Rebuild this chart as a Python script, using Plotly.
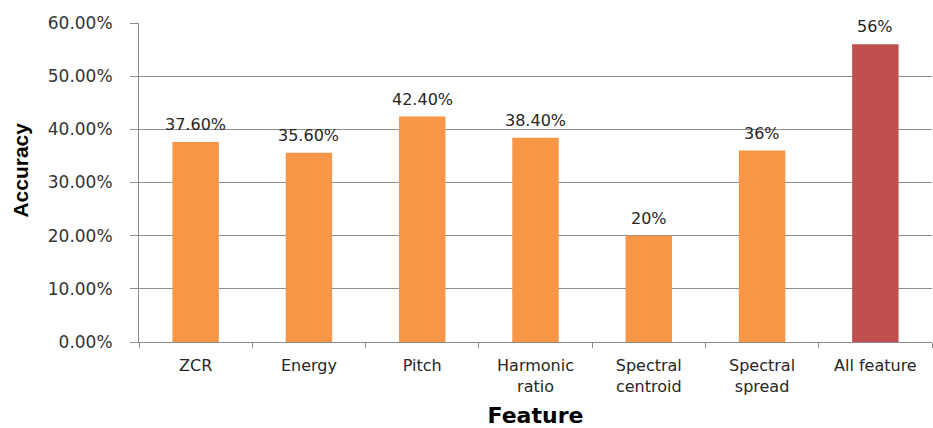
import plotly.graph_objects as go

categories = ["ZCR", "Energy", "Pitch", "Harmonic<br>ratio", "Spectral<br>centroid", "Spectral<br>spread", "All feature"]
accuracy = [0.376, 0.356, 0.424, 0.384, 0.20, 0.36, 0.56]
value_labels = ["37.60%", "35.60%", "42.40%", "38.40%", "20%", "36%", "56%"]
y_ticks = [0.0, 0.1, 0.2, 0.3, 0.4, 0.5, 0.6]

bar_colors = ["#F79646"] * 6 + ["#C0504D"]

fig = go.Figure(go.Bar(
    x=categories, y=accuracy,
    marker=dict(color=bar_colors, line=dict(width=0)),
    width=0.41,
))

for cat, val, lab in zip(categories, accuracy, value_labels):
    fig.add_annotation(
        x=cat, y=val, text=lab, showarrow=False,
        yanchor="bottom", yshift=6,
        font=dict(family="DejaVu Sans", size=16, color="#262626"),
    )

# y-axis title placed like the reference (slightly below plot centre)
fig.add_annotation(
    xref="paper", yref="paper", x=-0.149, y=0.54,
    text="<b>Accuracy</b>", textangle=-90, showarrow=False,
    xanchor="center", yanchor="middle",
    font=dict(family="Liberation Sans", size=21, color="#000000"),
)

fig.update_layout(
    width=933, height=428,
    margin=dict(l=139, r=1, t=23, b=86),
    paper_bgcolor="white", plot_bgcolor="white",
    showlegend=False,
    font=dict(family="DejaVu Sans", color="#333333"),
    xaxis=dict(
        showline=True, linecolor="#8c8c8c", linewidth=1,
        ticks="outside", ticklen=5, tickcolor="#8c8c8c",
        tickson="boundaries",
        tickfont=dict(family="DejaVu Sans", size=16, color="#262626"),
        ticklabelstandoff=9,
        title=dict(text="<b>Feature</b>", font=dict(family="DejaVu Sans", size=22, color="#000000"), standoff=14),
    ),
    yaxis=dict(
        range=[0, 0.6], tickvals=y_ticks, tickformat=".2%",
        showline=True, linecolor="#8c8c8c", linewidth=1,
        showgrid=True, gridcolor="#8c8c8c", gridwidth=1,
        ticks="outside", ticklen=8, tickcolor="#8c8c8c",
        tickfont=dict(family="DejaVu Sans", size=17, color="#333333"),
        ticklabelstandoff=14,
        zeroline=False,
    ),
)

fig.write_html("out.html")
